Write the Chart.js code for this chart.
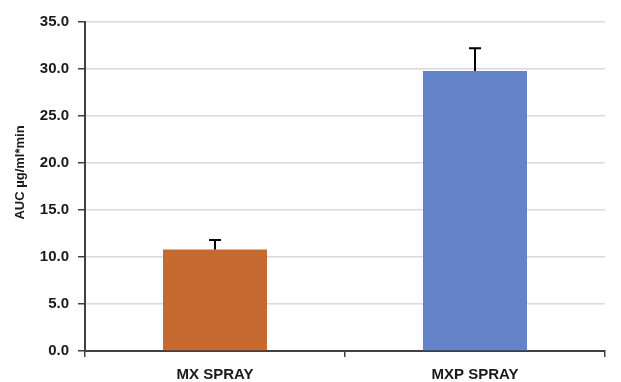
<!DOCTYPE html>
<html>
<head>
<meta charset="utf-8">
<script src="https://cdn.jsdelivr.net/npm/chart.js@4/dist/chart.umd.min.js"></script>
<style>
  html, body { margin: 0; padding: 0; background: #ffffff; }
  #wrap { width: 621px; height: 382px; position: relative; }
</style>
</head>
<body>
<div id="wrap"><canvas id="c" width="621" height="382"></canvas></div>
<script>
// Formulations and their mean AUC with standard deviation
const categories = ['MX SPRAY', 'MXP SPRAY'];
const aucMeans = [10.8, 29.8];
const aucErrors = [1.0, 2.4];
const barColors = ['#C56B31', '#6583C8'];
const yTicks = [0, 5, 10, 15, 20, 25, 30, 35];
const yTitle = 'AUC µg/ml*min';

const family = "'Liberation Sans', Arial, sans-serif";
const tickFont = { family: family, weight: 'bold', size: 15 };

// Draws upper error whiskers (T shape) on each bar
const errorBars = {
  id: 'errorBars',
  afterDatasetsDraw(chart) {
    const ctx = chart.ctx;
    const meta = chart.getDatasetMeta(0);
    const y = chart.scales.y;
    ctx.save();
    ctx.strokeStyle = '#000000';
    ctx.lineWidth = 2;
    meta.data.forEach((bar, i) => {
      const top = y.getPixelForValue(aucMeans[i] + aucErrors[i]);
      const base = y.getPixelForValue(aucMeans[i]);
      ctx.beginPath();
      ctx.moveTo(bar.x, base);
      ctx.lineTo(bar.x, top);
      ctx.moveTo(bar.x - 6, top);
      ctx.lineTo(bar.x + 6, top);
      ctx.stroke();
    });
    ctx.restore();
  }
};

// Rotated y-axis title, set slightly above the plot's vertical centre
const axisTitle = {
  id: 'axisTitle',
  afterDraw(chart) {
    const ctx = chart.ctx;
    const area = chart.chartArea;
    ctx.save();
    ctx.translate(20, (area.top + area.bottom) / 2 - 14);
    ctx.rotate(-Math.PI / 2);
    ctx.font = 'bold 13px ' + family;
    ctx.fillStyle = '#1a1a1a';
    ctx.textAlign = 'center';
    ctx.textBaseline = 'middle';
    ctx.fillText(yTitle, 0, 0);
    ctx.restore();
  }
};

new Chart(document.getElementById('c'), {
  type: 'bar',
  data: {
    labels: categories,
    datasets: [{
      data: aucMeans,
      backgroundColor: barColors,
      borderWidth: 0,
      barPercentage: 0.4,
      categoryPercentage: 1.0
    }]
  },
  options: {
    responsive: false,
    animation: false,
    events: [],
    layout: { padding: { top: 22, right: 16, bottom: 0, left: 0 } },
    plugins: { legend: { display: false }, tooltip: { enabled: false } },
    scales: {
      x: {
        offset: true,
        grid: { display: true, offset: true, drawOnChartArea: false, tickLength: 6, color: '#404040', lineWidth: 1.5 },
        border: { display: true, color: '#404040', width: 2 },
        ticks: { color: '#1a1a1a', font: tickFont, padding: 9 },
        afterFit(s) { s.height = 31; }
      },
      y: {
        min: 0,
        max: 35,
        afterBuildTicks(s) { s.ticks = yTicks.map(v => ({ value: v })); },
        grid: { color: '#d9d9d9', lineWidth: 1.5, tickLength: 7, tickColor: '#404040' },
        border: { display: true, color: '#404040', width: 2 },
        ticks: {
          color: '#1a1a1a',
          font: tickFont,
          padding: 9,
          callback: v => Number(v).toFixed(1)
        },
        afterFit(s) { s.width = 85; }
      }
    }
  },
  plugins: [errorBars, axisTitle]
});
</script>
</body>
</html>
